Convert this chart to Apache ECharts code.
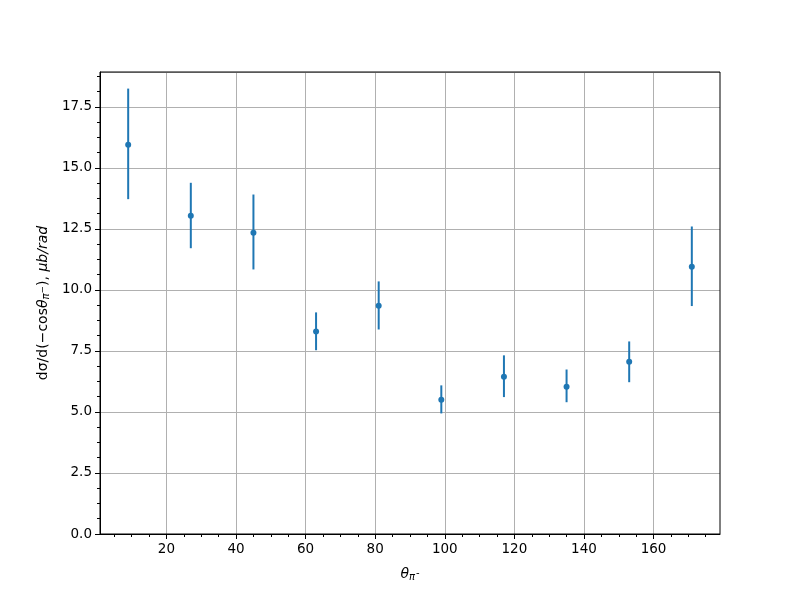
<!DOCTYPE html>
<html>
<head>
<meta charset="utf-8">
<script src="https://cdn.jsdelivr.net/npm/echarts@6/dist/echarts.min.js"></script>
<style>html,body{margin:0;padding:0;background:#fff}#c{width:800px;height:600px}</style>
</head>
<body>
<div id="c"></div>
<script>
const thetas = [9, 27, 45, 63, 81, 99, 117, 135, 153, 171];
const values = [15.95, 13.04, 12.34, 8.30, 9.35, 5.50, 6.44, 6.03, 7.06, 10.95];
const lowers = [13.72, 11.71, 10.84, 7.53, 8.38, 4.94, 5.61, 5.40, 6.22, 9.34];
const uppers = [18.25, 14.39, 13.91, 9.08, 10.35, 6.09, 7.32, 6.74, 7.89, 12.60];
const xTicks = [20, 40, 60, 80, 100, 120, 140, 160];
const xMinorTicks = [5, 10, 15, 25, 30, 35, 45, 50, 55, 65, 70, 75, 85, 90, 95, 105, 110, 115, 125, 130, 135, 145, 150, 155, 165, 170, 175];
const yTickLabels = ['0.0','2.5','5.0','7.5','10.0','12.5','15.0','17.5'];

const C = '#1f77b4';
const font = 'DejaVu Sans';
const chart = echarts.init(document.getElementById('c'));
const pts = thetas.map((t, i) => [t, values[i]]);
const errs = thetas.map((t, i) => [t, lowers[i], uppers[i]]);
const yMinor = [];
for (let k = 1; k * 0.625 < 18.93; k++) if (k % 4) yMinor.push(k * 0.625);

chart.setOption({
  animation: false,
  grid: [{left: 100, right: 80, top: 72, bottom: 66, show: true, borderColor: '#000', borderWidth: 1, backgroundColor: 'transparent', z: 5}],
  xAxis: [{
    type: 'value', min: 0.9, max: 179.1,
    axisLine: {show: true, onZero: false, lineStyle: {color: '#000', width: 1}},
    axisTick: {show: true, inside: false, length: 5, lineStyle: {color: '#000'}, customValues: xTicks},
    axisLabel: {color: '#000', fontFamily: font, fontSize: 13.5, margin: 8, customValues: xTicks},
    splitLine: {show: true, lineStyle: {color: '#b0b0b0', width: 1}},
    name: '{i|θ}{s|π}{p|-}', nameLocation: 'middle', nameGap: 32,
    nameTextStyle: {
      color: '#000', fontFamily: font, fontSize: 14,
      rich: {
        i: {fontStyle: 'italic', fontSize: 14, fontFamily: font, color: '#000'},
        s: {fontStyle: 'italic', fontSize: 10, fontFamily: font, color: '#000', padding: [6, 0, 0, 0]},
        p: {fontSize: 10, fontFamily: font, color: '#000', padding: [0, 0, 2, 1]}
      }
    }
  }, {
    type: 'value', min: 0.9, max: 179.1, position: 'bottom',
    axisLine: {show: false}, axisLabel: {show: false}, splitLine: {show: false},
    axisTick: {show: true, length: 3, lineStyle: {color: '#000'}, customValues: xMinorTicks}
  }],
  yAxis: [{
    type: 'value', min: 0, max: 18.93, interval: 2.5,
    axisLine: {show: true, onZero: false, lineStyle: {color: '#000', width: 1}},
    axisTick: {show: true, inside: false, length: 5, lineStyle: {color: '#000'}},
    axisLabel: {
      color: '#000', fontFamily: font, fontSize: 13.5, margin: 8, showMaxLabel: false,
      formatter: v => { const k = Math.round(v / 2.5); return Math.abs(v - k * 2.5) < 1e-6 && k < yTickLabels.length ? yTickLabels[k] : ''; }
    },
    splitLine: {show: true, lineStyle: {color: '#b0b0b0', width: 1}},
    name: '{n|dσ/d(−cos}{i|θ}{s|π}{p|−}{n|), }{i|μb/rad}', nameLocation: 'middle', nameGap: 48, nameRotate: 90,
    nameTextStyle: {
      color: '#000', fontFamily: font, fontSize: 14,
      rich: {
        n: {fontSize: 14, fontFamily: font, color: '#000'},
        i: {fontStyle: 'italic', fontSize: 14, fontFamily: font, color: '#000'},
        s: {fontStyle: 'italic', fontSize: 10, fontFamily: font, color: '#000', padding: [6, 0, 0, 0]},
        p: {fontSize: 9, fontFamily: font, color: '#000', padding: [0, 0, 0, 0]}
      }
    }
  }, {
    type: 'value', min: 0, max: 18.93, position: 'left',
    axisLine: {show: false}, axisLabel: {show: false}, splitLine: {show: false},
    axisTick: {show: true, length: 3, lineStyle: {color: '#000'}, customValues: yMinor}
  }],
  series: [{
    type: 'custom',
    data: errs,
    renderItem: (params, api) => {
      const a = api.coord([api.value(0), api.value(1)]);
      const b = api.coord([api.value(0), api.value(2)]);
      return {type: 'line', shape: {x1: a[0], y1: a[1], x2: b[0], y2: b[1]}, style: {stroke: C, lineWidth: 2}};
    },
    encode: {x: 0, y: [1, 2]},
    z: 3
  }, {
    type: 'scatter', data: pts, symbol: 'circle', symbolSize: 6,
    itemStyle: {color: C, opacity: 1}, z: 4
  }]
});
</script>
</body>
</html>
